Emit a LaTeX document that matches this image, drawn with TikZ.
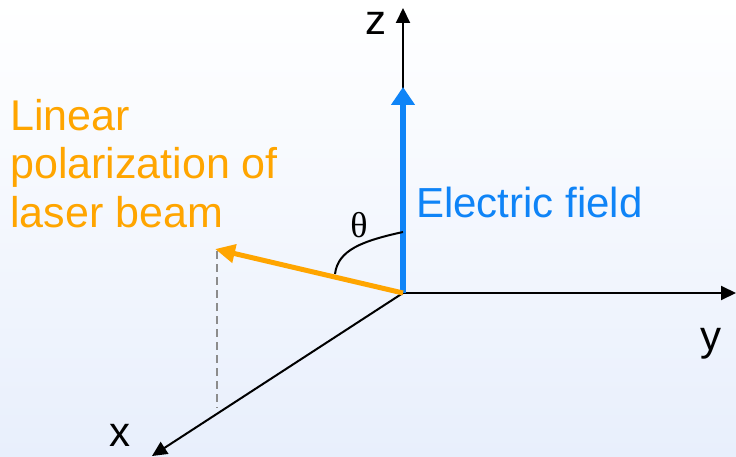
\documentclass[tikz,border=0pt]{standalone}
\usepackage{fontspec}
\setmainfont{Liberation Sans}
\newfontfamily\thetafont{Liberation Serif}
\usetikzlibrary{arrows.meta, calc}
\definecolor{lpblue}{HTML}{0F84F7}
\definecolor{lporange}{HTML}{FFA500}
\definecolor{lpgray}{HTML}{8C8C8C}
\definecolor{lpbgtop}{HTML}{FFFFFF}
\definecolor{lpbgbottom}{HTML}{E8EFFC}

\begin{document}
\begin{tikzpicture}[x=1pt, y=-1pt, font=\fontsize{42}{48.5}\selectfont,
  axis/.style={black, line width=2pt, -{Triangle[length=15pt, width=14pt]}},
  lbl/.style={inner sep=0pt, anchor=base},
  dropline/.style={lpgray, line width=2pt, dash pattern=on 8pt off 5pt}]
  \shade[top color=lpbgtop, bottom color=lpbgbottom] (0,0) rectangle (736,457);
  \useasboundingbox (0,0) rectangle (736,457);
  \coordinate (O) at (403,293);
  \coordinate (zend) at (403,8);
  \coordinate (yend) at (736,293);
  \coordinate (xend) at (152,456);
  \coordinate (Etip) at (403,87);
  \coordinate (Ptip) at (215,249);
  \coordinate (foot) at (217,408);
  \coordinate (arcz) at (403,232);
  \coordinate (arcp) at (335,274);
  \draw[axis] (O) -- (zend);
  \draw[axis] (O) -- (yend);
  \draw[axis] (O) -- (xend);
  \draw[dropline] (217,251) -- (foot);
  \draw[lpblue, line width=6pt, -{Triangle[length=18pt, width=23pt]}] (O) -- (Etip);
  \draw[lporange, line width=5pt, -{Triangle[length=20pt, width=18pt]}] (O) -- (Ptip);
  \draw[black, line width=2pt] (arcz) .. controls (362,241) and (338,250) .. (arcp);
  \node[lbl] (zlab) at (376,35) {z};
  \node[lbl] (ylab) at (711,350) {y};
  \node[lbl] (xlab) at (120,446) {x};
  \node[lbl, anchor=base west, text=lpblue] (efield) at (416,218) {Electric field};
  \node[inner sep=0pt, anchor=north west, align=left, text=lporange,
    font=\fontsize{43}{48.5}\selectfont] (polar) at (10,99)
    {Linear\\polarization of\\laser beam};
  \node[inner sep=0pt, font=\thetafont\fontsize{36}{40}\selectfont] (theta) at (359,225) {θ};
\end{tikzpicture}
\end{document}
